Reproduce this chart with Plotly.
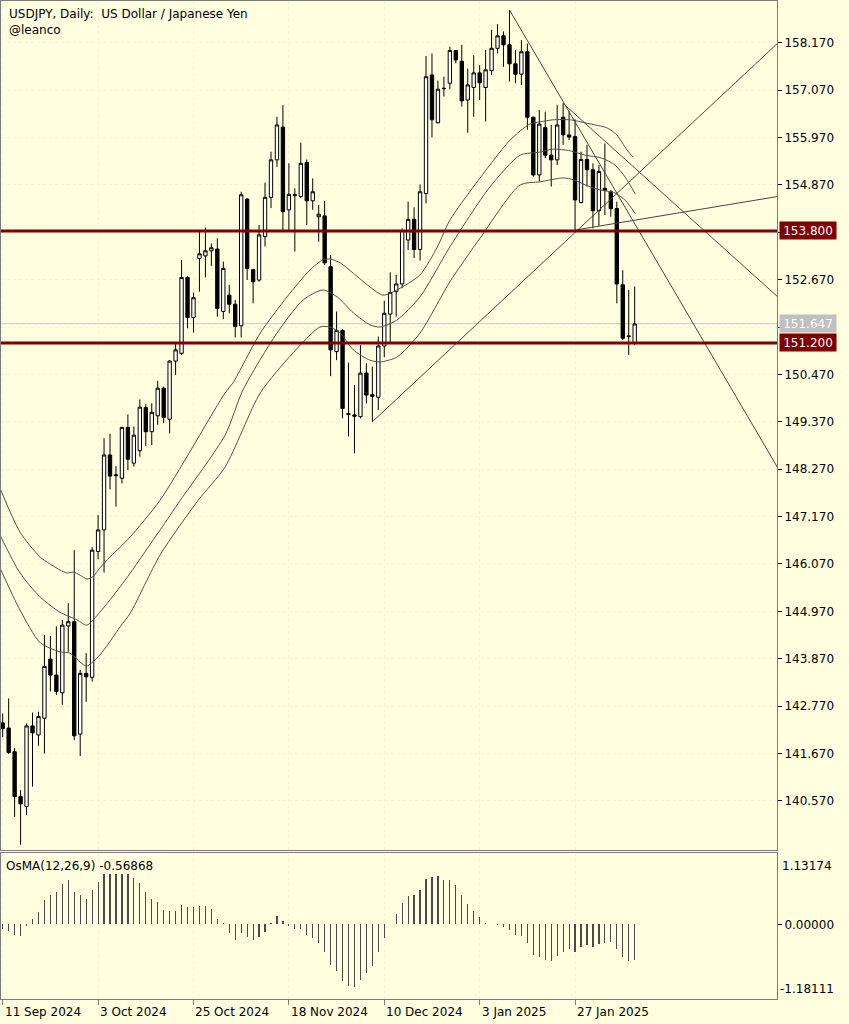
import plotly.graph_objects as go

# ---------------- data ----------------
bar_index = list(range(107))

open_ = [142.38, 142.26, 141.71, 140.67, 140.44, 142.31, 142.10, 142.49, 143.86, 143.49,
         143.08, 144.63, 144.73, 142.12, 143.53, 143.44, 146.36, 146.86, 148.60, 148.14,
         148.06, 149.24, 148.41, 148.70, 149.70, 149.14, 149.51, 150.15, 149.43, 150.78,
         150.96, 152.72, 151.79, 153.16, 153.22, 153.34, 153.38, 151.93, 152.31, 152.10,
         151.60, 154.54, 152.90, 152.66, 153.67, 154.58, 155.45, 156.21, 154.29, 154.62,
         154.60, 155.39, 154.50, 154.13, 154.15, 152.97, 151.00, 151.49, 149.56, 149.53,
         149.49, 150.50, 150.00, 149.94, 151.13, 151.87, 152.39, 152.57, 153.59, 154.07,
         153.37, 154.67, 157.42, 156.31, 157.10, 157.23, 157.99, 157.74, 156.84, 157.13,
         157.47, 157.13, 157.52, 158.04, 158.33, 158.12, 157.68, 157.44, 157.96, 156.44,
         155.10, 156.20, 155.56, 155.45, 156.44, 156.03, 155.99, 154.46, 155.46, 155.22,
         154.27, 154.79, 154.71, 154.32, 152.55, 151.35, 151.21]
high = [142.60, 142.95, 141.80, 140.82, 142.37, 142.62, 142.64, 144.42, 144.40, 144.62,
        144.77, 145.16, 146.39, 143.61, 144.00, 146.46, 147.21, 148.99, 149.09, 148.34,
        149.25, 149.54, 149.26, 149.89, 149.78, 149.80, 150.32, 150.19, 150.80, 151.18,
        153.13, 152.75, 152.37, 153.78, 153.88, 153.51, 153.63, 153.09, 152.55, 152.20,
        154.71, 154.56, 152.92, 153.94, 154.92, 155.64, 156.45, 156.72, 155.37, 154.79,
        155.85, 155.46, 155.02, 154.40, 154.50, 153.24, 151.93, 151.52, 150.74, 150.22,
        151.15, 150.73, 150.65, 151.35, 152.18, 152.84, 152.78, 153.86, 154.48, 154.35,
        154.88, 157.86, 157.92, 157.29, 157.38, 158.08, 158.00, 158.12, 157.57, 157.88,
        157.65, 158.00, 158.47, 158.60, 158.43, 158.93, 158.00, 158.23, 158.15, 156.45,
        156.61, 156.57, 156.26, 156.72, 156.76, 156.58, 156.39, 155.64, 155.80, 155.37,
        155.33, 155.83, 154.75, 154.48, 152.89, 152.43, 152.51]
low = [142.05, 141.66, 140.20, 139.55, 140.24, 140.90, 141.85, 141.67, 143.11, 143.03,
       142.80, 144.03, 141.98, 141.61, 142.87, 143.34, 146.18, 145.87, 147.80, 147.40,
       147.94, 148.25, 148.33, 148.56, 148.81, 148.83, 149.30, 149.34, 149.10, 150.46,
       150.92, 151.54, 151.44, 152.39, 152.72, 152.99, 151.81, 151.75, 151.89, 151.33,
       151.33, 152.66, 152.12, 152.62, 153.44, 154.33, 155.29, 153.82, 153.82, 153.32,
       154.56, 153.94, 154.29, 153.55, 153.01, 150.43, 150.80, 149.45, 149.03, 148.64,
       149.45, 149.80, 149.37, 149.64, 150.87, 151.19, 151.81, 152.47, 153.36, 153.17,
       153.11, 154.44, 155.97, 156.30, 156.92, 157.09, 157.69, 156.69, 156.08, 156.45,
       156.84, 156.34, 157.42, 157.92, 157.61, 157.27, 157.23, 157.19, 156.15, 155.06,
       154.95, 155.49, 154.83, 155.33, 155.80, 155.91, 153.82, 154.44, 154.83, 153.86,
       153.92, 154.17, 154.13, 152.12, 151.27, 150.92, 151.15]
close = [142.25, 141.69, 140.67, 140.50, 142.31, 142.15, 142.53, 143.69, 143.49, 143.11,
         144.65, 144.73, 142.08, 143.53, 143.45, 146.39, 146.86, 148.60, 148.11, 148.12,
         149.24, 148.50, 149.06, 149.71, 149.14, 149.59, 150.15, 149.47, 150.78, 151.04,
         152.72, 151.79, 152.25, 153.27, 153.34, 153.41, 152.00, 152.93, 152.10, 151.58,
         154.64, 152.93, 152.62, 153.71, 154.58, 155.45, 156.26, 154.25, 154.65, 154.64,
         155.37, 154.50, 154.71, 154.19, 153.06, 151.04, 151.49, 149.68, 149.54, 149.50,
         150.50, 149.99, 149.96, 151.13, 151.89, 152.37, 152.57, 153.81, 154.07, 153.37,
         154.71, 157.38, 156.38, 157.09, 157.11, 157.99, 157.77, 156.82, 157.19, 157.47,
         157.24, 157.54, 158.04, 158.33, 158.12, 157.68, 157.44, 157.96, 156.44, 155.10,
         156.28, 155.56, 155.45, 156.26, 156.03, 155.98, 154.52, 155.46, 155.22, 154.27,
         155.18, 154.74, 154.32, 152.57, 151.31, 151.36, 151.64]

osma = [-0.08, -0.11, -0.16, -0.18, -0.02, 0.09, 0.20, 0.38, 0.47, 0.51,
        0.64, 0.70, 0.51, 0.47, 0.41, 0.55, 0.67, 0.80, 0.80, 0.80,
        0.80, 0.80, 0.73, 0.66, 0.51, 0.40, 0.35, 0.23, 0.22, 0.22,
        0.31, 0.27, 0.27, 0.285, 0.285, 0.25, 0.085, 0.02, -0.13, -0.25,
        -0.14, -0.20, -0.24, -0.20, -0.12, 0.02, 0.13, 0.06, -0.03, -0.07,
        -0.07, -0.16, -0.22, -0.30, -0.43, -0.64, -0.73, -0.90, -0.98, -0.99,
        -0.88, -0.77, -0.655, -0.44, -0.22, 0.01, 0.17, 0.34, 0.45, 0.46,
        0.54, 0.72, 0.745, 0.76, 0.71, 0.70, 0.63, 0.46, 0.32, 0.22,
        0.11, 0.03, 0.005, -0.005, -0.04, -0.095, -0.16, -0.18, -0.30, -0.48,
        -0.51, -0.56, -0.58, -0.50, -0.43, -0.39, -0.43, -0.36, -0.32, -0.36,
        -0.31, -0.30, -0.275, -0.39, -0.52, -0.585, -0.56868]

# moving-average curves (bar position, price)
ma_upper_idx = [-0.45, 2.9, 6.3, 9.6, 10.8, 11.8, 13.0, 14.1, 15.1, 16.3, 18.0, 19.7, 21.4,
                26.4, 37.3, 38.6, 43.2, 47.7, 51.5, 53.7, 54.9, 56.6, 58.8, 61.6, 63.8,
                66.1, 70.0, 72.9, 75.0, 79.2, 85.1, 88.4, 90.1, 92.3, 95.2, 98.0, 101.4,
                103.0, 104.7, 105.7]
ma_upper = [147.83, 146.81, 146.23, 145.93, 145.86, 145.88, 145.81, 145.72, 145.77, 145.98,
            146.23, 146.46, 146.70, 147.55, 150.04, 150.27, 151.43, 152.27, 152.89, 153.13,
            153.15, 153.06, 152.82, 152.50, 152.31, 152.43, 152.78, 153.43, 154.05, 154.87,
            155.91, 156.28, 156.33, 156.38, 156.38, 156.30, 156.19, 156.03, 155.68, 155.52]
ma_middle_idx = [-0.45, 2.9, 6.3, 9.6, 12.5, 14.1, 16.3, 19.7, 21.4, 26.4, 29.8, 37.3,
                 40.3, 46.0, 50.4, 53.7, 56.1, 58.8, 61.6, 63.3, 66.1, 70.0, 75.0, 81.7,
                 86.8, 90.1, 92.3, 95.2, 97.7, 100.5, 102.7, 104.4, 106.1]
ma_middle = [146.74, 145.86, 145.30, 144.95, 144.77, 144.65, 144.95, 145.54, 145.86, 146.86,
             147.55, 149.06, 150.11, 151.43, 152.20, 152.43, 152.27, 151.90, 151.62, 151.57,
             151.73, 152.27, 153.43, 154.82, 155.56, 155.63, 155.70, 155.66, 155.56, 155.49,
             155.33, 155.05, 154.66]
ma_lower_idx = [-0.45, 2.9, 6.3, 9.6, 11.3, 13.0, 14.1, 16.3, 19.7, 21.4, 26.4, 32.8, 37.3,
                43.2, 48.7, 53.2, 54.9, 56.6, 58.8, 61.6, 63.3, 66.1, 70.0, 75.0, 80.1,
                86.8, 90.1, 94.0, 95.7, 97.7, 99.7, 102.7, 104.5, 106.1]
ma_lower = [145.98, 145.00, 144.24, 144.03, 144.00, 143.79, 143.70, 143.96, 144.61, 144.93,
            146.28, 147.55, 148.32, 150.04, 150.97, 151.57, 151.57, 151.43, 151.04, 150.80,
            150.76, 150.87, 151.43, 152.62, 153.64, 154.87, 154.94, 155.03, 154.99, 154.87,
            154.77, 154.68, 154.50, 154.20]

# trend lines: start bar/price and end bar/price
trend_start_idx = [85, 94, 62, 96]
trend_start_price = [158.93, 156.76, 149.37, 153.82]
trend_end_idx = [130, 130, 130, 130]
trend_end_price = [148.30, 152.27, 158.16, 154.60]

levels = [153.80, 151.20]
level_labels = ["153.800", "151.200"]
bid_price = 151.647
bid_label = "151.647"

price_ticks = [140.570, 141.670, 142.770, 143.870, 144.970, 146.070, 147.170, 148.270,
               149.370, 150.470, 151.570, 152.670, 153.770, 154.870, 155.970, 157.070, 158.170]
price_tick_labels = ["140.570", "141.670", "142.770", "143.870", "144.970", "146.070",
                     "147.170", "148.270", "149.370", "150.470", "151.570", "152.670",
                     "153.770", "154.870", "155.970", "157.070", "158.170"]

date_tick_idx = [0, 16, 32, 48, 64, 80, 96]
date_tick_labels = ["11 Sep 2024", "3 Oct 2024", "25 Oct 2024", "18 Nov 2024",
                    "10 Dec 2024", "3 Jan 2025", "27 Jan 2025"]

osma_max = 1.13174
osma_min = -1.18111
osma_title = "OsMA(12,26,9) -0.56868"

# ---------------- figure ----------------
BG = "#FFFFE0"
FRAME = "#7A7A7A"
LINEC = "#505050"
FONT = "DejaVu Sans"

fig = go.Figure()

fig.add_trace(go.Candlestick(
    x=bar_index, open=open_, high=high, low=low, close=close,
    increasing=dict(line=dict(color="black", width=1), fillcolor="white"),
    decreasing=dict(line=dict(color="black", width=1), fillcolor="black"),
    whiskerwidth=0, hoverinfo="skip", xaxis="x", yaxis="y"))

for xs, ys in [(ma_upper_idx, ma_upper), (ma_middle_idx, ma_middle), (ma_lower_idx, ma_lower)]:
    fig.add_trace(go.Scatter(x=xs, y=ys, mode="lines",
                             line=dict(color=LINEC, width=1, shape="spline", smoothing=0.7),
                             hoverinfo="skip", xaxis="x", yaxis="y"))

for i in range(len(trend_start_idx)):
    fig.add_trace(go.Scatter(x=[trend_start_idx[i], trend_end_idx[i]],
                             y=[trend_start_price[i], trend_end_price[i]],
                             mode="lines", line=dict(color="#454545", width=1),
                             hoverinfo="skip", xaxis="x", yaxis="y"))

fig.add_trace(go.Bar(x=bar_index, y=osma, width=0.2, marker=dict(color="#4A4A4A", line=dict(width=0)),
                     hoverinfo="skip", xaxis="x2", yaxis="y2"))

shapes = []
for lv in levels:
    shapes.append(dict(type="line", xref="x domain", yref="y", x0=0, x1=1, y0=lv, y1=lv,
                       line=dict(color="#800000", width=3), layer="above"))
shapes.append(dict(type="line", xref="x domain", yref="y", x0=0, x1=1, y0=bid_price, y1=bid_price,
                   line=dict(color="#C8C8C8", width=1), layer="below"))

ann = []
ann.append(dict(x=0, y=1, xref="paper", yref="paper", xanchor="left", yanchor="top",
                xshift=6, yshift=-4, text="USDJPY, Daily:  US Dollar / Japanese Yen",
                showarrow=False, font=dict(family=FONT, size=12, color="black")))
ann.append(dict(x=0, y=1, xref="paper", yref="paper", xanchor="left", yanchor="top",
                xshift=6, yshift=-20, text="@leanco",
                showarrow=False, font=dict(family=FONT, size=12, color="black")))
ann.append(dict(x=0, y=0.1463, xref="paper", yref="paper", xanchor="left", yanchor="top",
                xshift=3, yshift=-4, text=osma_title,
                showarrow=False, font=dict(family=FONT, size=12, color="black")))
ann.append(dict(x=1, y=0.1463, xref="paper", yref="paper", xanchor="left", yanchor="top",
                xshift=3, yshift=-4, text=f"{osma_max:.5f}",
                showarrow=False, font=dict(family=FONT, size=12, color="black")))
ann.append(dict(x=1, y=0, xref="paper", yref="paper", xanchor="left", yanchor="bottom",
                xshift=1, yshift=1, text=f"{osma_min:.5f}",
                showarrow=False, font=dict(family=FONT, size=12, color="black")))
for idx, lab in zip(date_tick_idx, date_tick_labels):
    ann.append(dict(x=idx, y=0, xref="x2", yref="paper", xanchor="left", yanchor="top",
                    yshift=-4, text=lab, showarrow=False,
                    font=dict(family=FONT, size=12, color="black")))
for lv, lab in zip(levels, level_labels):
    ann.append(dict(x=1, y=lv, xref="paper", yref="y", xanchor="left", yanchor="middle",
                    xshift=2, text=lab, showarrow=False, bgcolor="#800000",
                    width=54, height=15, borderpad=1,
                    font=dict(family=FONT, size=12, color="white")))
ann.append(dict(x=1, y=bid_price, xref="paper", yref="y", xanchor="left", yanchor="middle",
                xshift=2, text=bid_label, showarrow=False, bgcolor="#C0C0C0",
                width=54, height=15, borderpad=1,
                font=dict(family=FONT, size=12, color="white")))

xrange = [-0.285, 129.87]
fig.update_layout(
    width=849, height=1024,
    margin=dict(l=1, r=72, t=1, b=25),
    paper_bgcolor=BG, plot_bgcolor=BG,
    showlegend=False, hovermode=False,
    font=dict(family=FONT, size=12, color="black"),
    boxgap=0.25, boxgroupgap=0.25, bargap=0,
    shapes=shapes, annotations=ann,
    xaxis=dict(domain=[0, 1], anchor="y", range=xrange, showticklabels=False,
               tickvals=date_tick_idx, ticks="", showgrid=True, gridcolor="#F4F4DA",
               griddash="dot", showline=True, mirror=True, linecolor=FRAME, linewidth=1,
               zeroline=False, rangeslider=dict(visible=False), fixedrange=True),
    yaxis=dict(domain=[0.1493, 1], anchor="x", side="right", range=[139.43, 159.138],
               tickvals=price_ticks, ticktext=price_tick_labels, ticks="outside",
               ticklen=4, tickcolor="black", showgrid=True, gridcolor="#F4F4DA",
               griddash="dot", showline=True, mirror=True, linecolor=FRAME, linewidth=1,
               zeroline=False, tickfont=dict(family=FONT, size=12, color="black")),
    xaxis2=dict(domain=[0, 1], anchor="y2", range=xrange, showticklabels=False,
                tickvals=date_tick_idx, ticks="outside", ticklen=5, tickcolor=FRAME,
                showgrid=True, gridcolor="#F4F4DA", griddash="dot",
                showline=True, mirror=True, linecolor=FRAME, linewidth=1, zeroline=False),
    yaxis2=dict(domain=[0, 0.1463], anchor="x2", side="right", range=[osma_min, osma_max],
                tickvals=[0], ticktext=["0.00000"], ticks="outside", ticklen=4,
                tickcolor="black", showgrid=False, showline=True, mirror=True,
                linecolor=FRAME, linewidth=1, zeroline=False,
                tickfont=dict(family=FONT, size=12, color="black")),
)

fig.write_html("out.html", config={"displayModeBar": False, "staticPlot": True},
               post_script="document.body.style.margin='0px';document.body.style.background='#FFFFE0';document.body.style.overflow='hidden';")
